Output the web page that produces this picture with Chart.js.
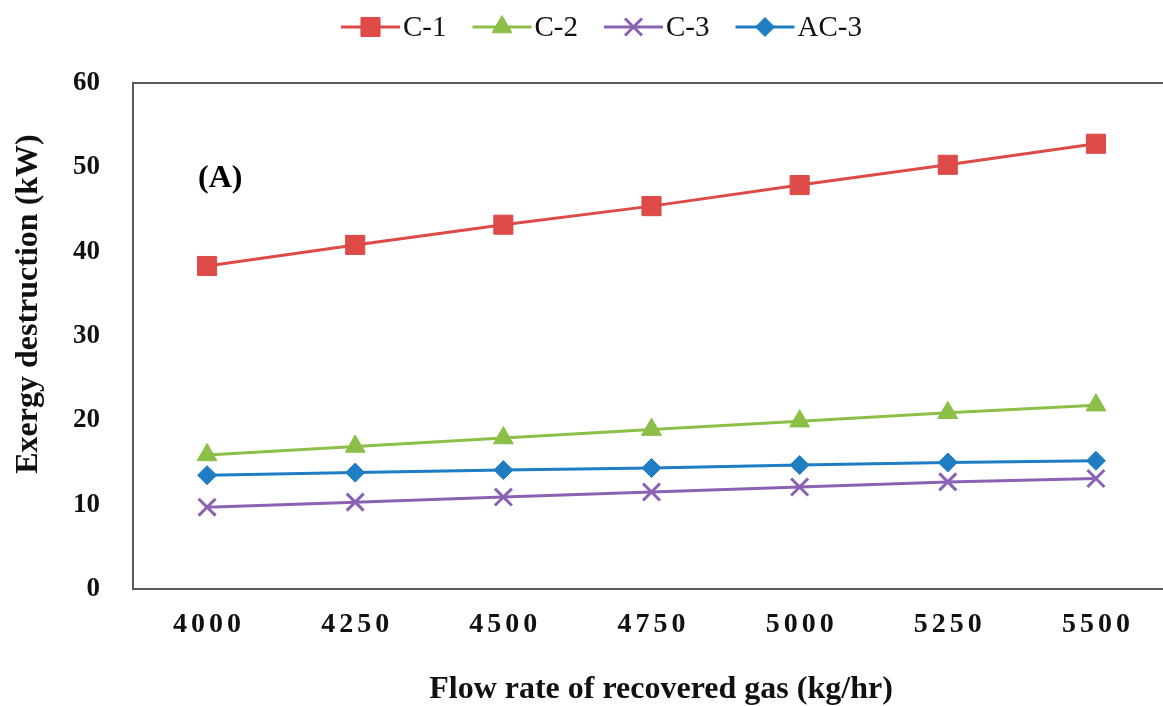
<!DOCTYPE html>
<html><head><meta charset="utf-8">
<script src="https://cdn.jsdelivr.net/npm/chart.js@4.4.1/dist/chart.umd.min.js"></script>
<style>
html,body{margin:0;padding:0;overflow:hidden;background:#fff;width:1163px;height:706px}
#wrap{width:1190px;height:706px}
</style></head>
<body><div id="wrap"><canvas id="c" width="1185" height="706"></canvas></div>
<script>
// ---- data ----
const categories = ['4000','4250','4500','4750','5000','5250','5500'];
const c1Values  = [38.3, 40.8, 43.2, 45.4, 47.9, 50.3, 52.8];
const c2Values  = [15.9, 16.9, 17.9, 18.9, 19.9, 20.9, 21.8];
const c3Values  = [9.7, 10.3, 10.9, 11.5, 12.1, 12.7, 13.1];
const ac3Values = [13.5, 13.8, 14.1, 14.35, 14.7, 15.0, 15.2];
const seriesNames = ['C-1', 'C-2', 'C-3', 'AC-3'];
const yMin = 0, yMax = 60, yStep = 10;
const xTitle = 'Flow rate of recovered gas (kg/hr)';
const yTitle = 'Exergy destruction (kW)';
const panelLabel = '(A)';

// ---- styles ----
const RED = '#DD4A47', GREEN = '#8BBF48', PURPLE = '#8A62B3', BLUE = '#1E7DC3';
const AXIS = '#5a5a5a';
const SERIF = '"Liberation Serif", "Times New Roman", serif';

function ds(label, data, color, style, radius) {
  return {
    label, data,
    borderColor: color, backgroundColor: color,
    borderWidth: 3, tension: 0,
    pointStyle: style, pointRadius: radius, pointHoverRadius: radius,
    pointBackgroundColor: color, pointBorderColor: color,
    pointBorderWidth: style === 'crossRot' ? 3 : 1
  };
}

const datasets = [
  ds(seriesNames[0], c1Values, RED, 'rect', 13.5),
  ds(seriesNames[1], c2Values, GREEN, 'triangle', 11.5),
  ds(seriesNames[2], c3Values, PURPLE, 'crossRot', 12),
  ds(seriesNames[3], ac3Values, BLUE, 'rectRot', 9.5)
];

const decor = {
  id: 'decor',
  beforeDraw(chart) {
    const xs = chart.scales.x;
    if (!xs._lsPatched) {
      const orig = xs.drawLabels;
      xs.drawLabels = function (a) {
        const ctx = this.ctx;
        ctx.save();
        ctx.letterSpacing = '4px';
        ctx.translate(2, 0);
        orig.call(this, a);
        ctx.restore();
      };
      xs._lsPatched = true;
    }
  },
  afterDraw(chart) {
    const ctx = chart.ctx;
    const a = chart.chartArea;
    ctx.save();
    // top frame line
    ctx.strokeStyle = AXIS; ctx.lineWidth = 2;
    ctx.beginPath(); ctx.moveTo(a.left - 1, a.top); ctx.lineTo(a.right, a.top); ctx.stroke();
    // axis titles
    ctx.fillStyle = '#111';
    ctx.font = 'bold 32px ' + SERIF;
    ctx.textAlign = 'center'; ctx.textBaseline = 'middle';
    ctx.fillText(xTitle, 661, 690);
    ctx.save();
    ctx.translate(29, 304);
    ctx.rotate(-Math.PI / 2);
    ctx.fillText(yTitle, 0, 0);
    ctx.restore();
    // panel label
    ctx.fillStyle = '#000';
    ctx.textAlign = 'left';
    ctx.fillText(panelLabel, 198, 179);
    // legend
    ctx.font = '29px ' + SERIF;
    let x = 341; const y = 27;
    chart.data.datasets.forEach((d) => {
      ctx.strokeStyle = d.borderColor; ctx.lineWidth = 3;
      ctx.beginPath(); ctx.moveTo(x, y); ctx.lineTo(x + 59, y); ctx.stroke();
      ctx.fillStyle = d.pointBackgroundColor; ctx.strokeStyle = d.pointBorderColor;
      ctx.lineWidth = d.pointBorderWidth;
      Chart.helpers.drawPoint(ctx, { pointStyle: d.pointStyle, radius: d.pointRadius, rotation: 0, borderWidth: d.pointBorderWidth }, x + 29.5, y);
      ctx.fillStyle = '#111';
      ctx.textAlign = 'left'; ctx.textBaseline = 'middle';
      ctx.fillText(d.label, x + 62, y + 1);
      x += 62 + ctx.measureText(d.label).width + 26;
    });
    ctx.restore();
  }
};

new Chart(document.getElementById('c'), {
  type: 'line',
  data: { labels: categories, datasets },
  options: {
    responsive: false,
    animation: false,
    devicePixelRatio: 1,
    layout: { padding: { top: 83, left: 0, right: 0, bottom: 0 } },
    plugins: { legend: { display: false }, tooltip: { enabled: false } },
    scales: {
      x: {
        type: 'category',
        offset: true,
        grid: { display: false, drawTicks: false },
        border: { display: true, color: AXIS, width: 2 },
        ticks: { color: '#111', font: { family: SERIF, size: 28, weight: 'bold' }, padding: 19, maxRotation: 0, autoSkip: false },
        title: { display: false },
        afterFit(s) { s.height = 117; }
      },
      y: {
        min: yMin, max: yMax,
        grid: { display: false, drawTicks: false },
        border: { display: true, color: AXIS, width: 2 },
        ticks: { stepSize: yStep, color: '#111', font: { family: SERIF, size: 27, weight: 'bold' }, padding: 33 },
        title: { display: false },
        afterFit(s) { s.width = 133; }
      }
    }
  },
  plugins: [decor]
});
</script>
</body></html>
